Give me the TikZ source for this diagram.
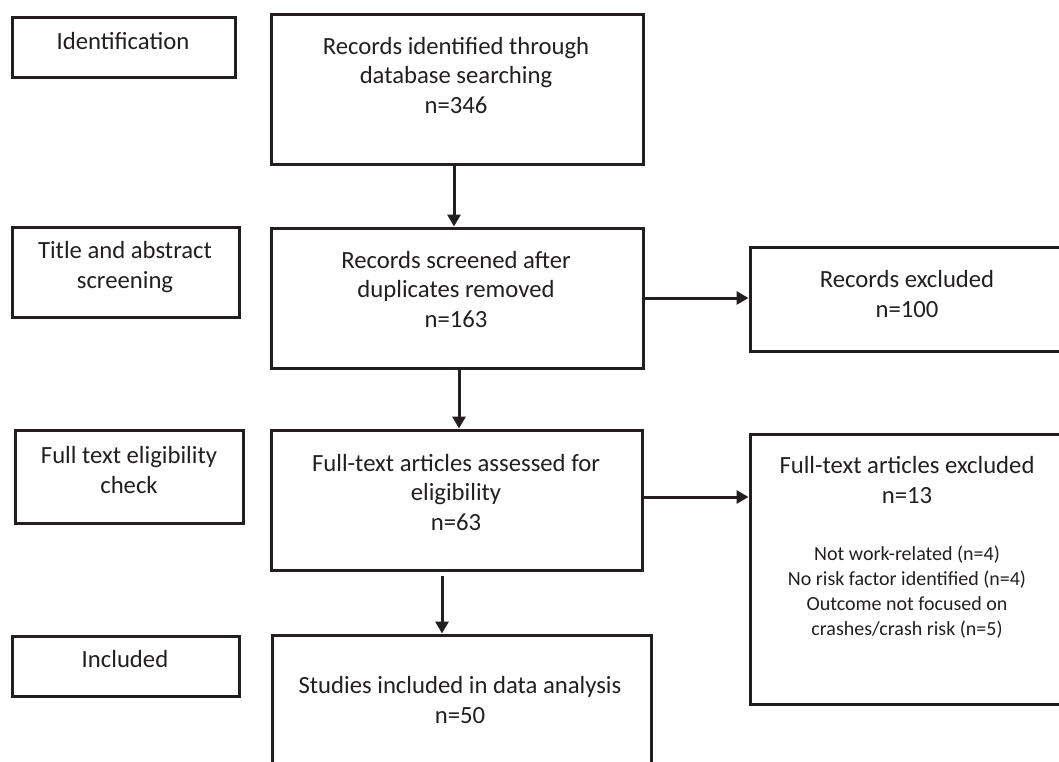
\documentclass[tikz,border=0pt]{standalone}
\usepackage{fontspec}
\setmainfont{Carlito}
\usetikzlibrary{arrows.meta}
\definecolor{ink}{RGB}{35,31,32}
\begin{document}
\begin{tikzpicture}[x=1pt,y=-1pt,
  box/.style={draw=ink,line width=3pt,inner sep=0pt},
  txt/.style={inner sep=0pt,anchor=base,align=center,text=ink,font=\fontsize{24.7}{29.5}\selectfont},
  small/.style={inner sep=0pt,anchor=base,align=center,text=ink,font=\fontsize{20}{25}\selectfont},
  arr/.style={draw=ink,line width=3pt,-{Triangle[length=12pt,width=13pt]}}]
\useasboundingbox (0,0) rectangle (1059,761);
\clip (0,0) rectangle (1059,761);
\fill[white] (0,0) rectangle (1059,761);
% stage boxes
\node[box,minimum width=223pt,minimum height=60pt] (id) at (123.5,47) {};
\node[box,minimum width=227pt,minimum height=90pt] (ta) at (125.5,272) {};
\node[box,minimum width=228pt,minimum height=93pt] (ft) at (129,476.5) {};
\node[box,minimum width=227pt,minimum height=60pt] (inc) at (125.5,666) {};
% flow boxes
\node[box,minimum width=372pt,minimum height=150pt] (b1) at (457,89) {};
\node[box,minimum width=372pt,minimum height=140pt] (b2) at (457,298) {};
\node[box,minimum width=371pt,minimum height=140pt] (b3) at (456.5,500) {};
\node[box,minimum width=379pt,minimum height=160pt] (b4) at (461.5,715) {};
\node[box,minimum width=320pt,minimum height=104pt] (rex) at (910,299) {};
\node[box,minimum width=320pt,minimum height=270pt] (fte) at (910,569) {};
% texts (anchor = baseline of last line)
\node[txt] (tid) at (123,49) {Identification};
\node[txt] (tta) at (125,288) {Title and abstract\\screening};
\node[txt] (tft) at (129,493) {Full text eligibility\\check};
\node[txt] (tinc) at (125,667) {Included};
\node[txt] (tb1) at (456,113) {Records identified through\\database searching\\n=346};
\node[txt] (tb2) at (456,327) {Records screened after\\duplicates removed\\n=163};
\node[txt] (tb3) at (456,530) {Full-text articles assessed for\\eligibility\\n=63};
\node[txt] (tb4) at (460,723) {Studies included in data analysis\\n=50};
\node[txt] (trex) at (907,317) {Records excluded\\n=100};
\node[txt] (tfte) at (907,503) {Full-text articles excluded\\n=13};
\node[small] (tfte2) at (907,635) {Not work-related (n=4)\\No risk factor identified (n=4)\\Outcome not focused on\\crashes/crash risk (n=5)};
% arrows
\draw[arr] ([xshift=-3pt]b1.south) -- ([xshift=-3pt]b2.north);
\draw[arr] ([xshift=2pt]b2.south) -- ([xshift=2.5pt]b3.north);
\draw[arr] ([xshift=-14.5pt]b3.south) ++(0,4) -- ([xshift=-19.5pt]b4.north);
\draw[arr] (b2.east) -- (b2.east -| rex.west);
\draw[arr] (b3.east |- 0,497) -- (fte.west |- 0,497);
\end{tikzpicture}
\end{document}
